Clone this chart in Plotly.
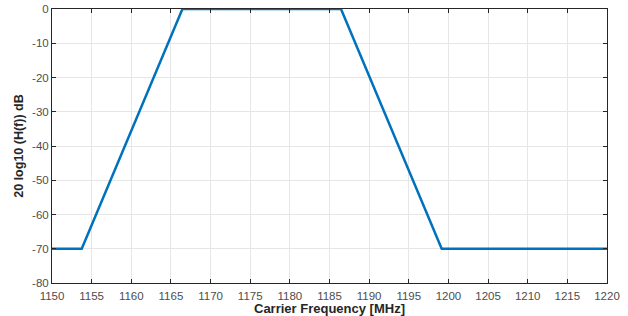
import plotly.graph_objects as go

freq_mhz = [1150, 1153.75, 1166.45, 1186.45, 1199.15, 1220]
gain_db = [-70, -70, 0, 0, -70, -70]
x_ticks = list(range(1150, 1221, 5))
y_ticks = list(range(-80, 1, 10))
y_tick_text = [str(v) for v in y_ticks]

FONT = "Liberation Sans, Arial, sans-serif"

fig = go.Figure()
fig.add_trace(go.Scatter(x=freq_mhz, y=gain_db, mode="lines",
                         line=dict(color="#0072BD", width=2.5)))

axis_common = dict(
    showgrid=True, gridcolor="#e6e6e6", gridwidth=1,
    showline=True, linecolor="#262626", linewidth=1, mirror="ticks",
    ticks="inside", ticklen=4, tickcolor="#262626",
    zeroline=False, automargin=False,
    tickfont=dict(family=FONT, size=11.5, color="#4d4d4d"),
)

fig.update_xaxes(range=[1150, 1220], tickvals=x_ticks, ticklabelstandoff=2, **axis_common,
                 title=dict(text="<b>Carrier Frequency [MHz]</b>", standoff=3,
                            font=dict(family=FONT, size=13, color="#262626")))
fig.update_yaxes(range=[-80, 0], tickvals=y_ticks, ticktext=y_tick_text, **axis_common,
                 title=dict(text="<b>20 log10 (H(f)) dB</b>", standoff=5,
                            font=dict(family=FONT, size=12.5, color="#262626")))

fig.update_layout(
    width=628, height=316,
    margin=dict(l=52, r=21, t=9, b=33),
    paper_bgcolor="white", plot_bgcolor="white",
    showlegend=False,
)
fig.write_html("out.html", config={"displayModeBar": False},
               post_script="document.body.style.margin='0';")
